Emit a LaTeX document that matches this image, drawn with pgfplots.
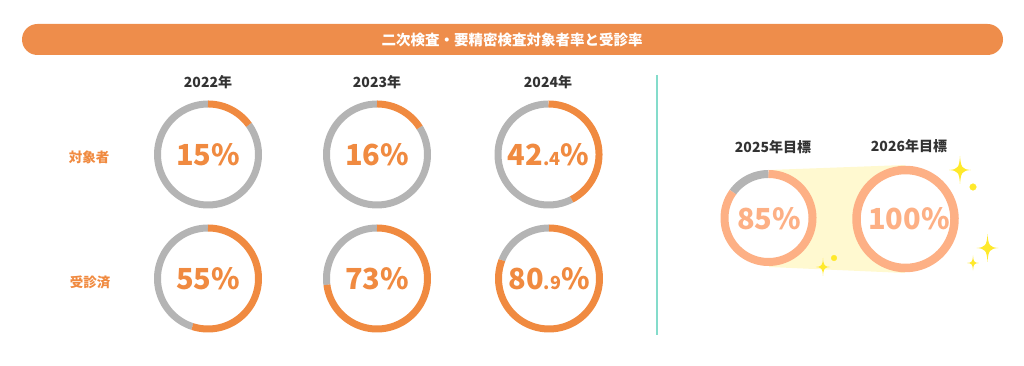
\documentclass[border=0pt]{standalone}
\usepackage{pgfplots}
\pgfplotsset{compat=1.18}
\usepackage{fontspec}
\setmainfont{Noto Sans CJK JP}
\definecolor{barorange}{HTML}{EE8D4B}
\definecolor{ringorange}{HTML}{F08A40}
\definecolor{ringgray}{HTML}{B4B4B4}
\definecolor{lightorange}{HTML}{FDB085}
\definecolor{teal}{HTML}{84DCCB}
\definecolor{staryellow}{HTML}{FFE92B}
\definecolor{paleyellow}{HTML}{FFF9D0}
\definecolor{darktext}{HTML}{333333}
\pgfdeclareplotmark{sparkle}{%
  \pgfpathmoveto{\pgfpoint{0pt}{\pgfplotmarksize}}%
  \pgfpathcurveto{\pgfpoint{0.06\pgfplotmarksize}{0.18\pgfplotmarksize}}{\pgfpoint{0.15\pgfplotmarksize}{0.05\pgfplotmarksize}}{\pgfpoint{0.78\pgfplotmarksize}{0pt}}%
  \pgfpathcurveto{\pgfpoint{0.15\pgfplotmarksize}{-0.05\pgfplotmarksize}}{\pgfpoint{0.06\pgfplotmarksize}{-0.18\pgfplotmarksize}}{\pgfpoint{0pt}{-\pgfplotmarksize}}%
  \pgfpathcurveto{\pgfpoint{-0.06\pgfplotmarksize}{-0.18\pgfplotmarksize}}{\pgfpoint{-0.15\pgfplotmarksize}{-0.05\pgfplotmarksize}}{\pgfpoint{-0.78\pgfplotmarksize}{0pt}}%
  \pgfpathcurveto{\pgfpoint{-0.15\pgfplotmarksize}{0.05\pgfplotmarksize}}{\pgfpoint{-0.06\pgfplotmarksize}{0.18\pgfplotmarksize}}{\pgfpoint{0pt}{\pgfplotmarksize}}%
  \pgfpathclose\pgfusepathqfill}
% \ring{cx}{cy}{radius}{line width}{percent}{colour}
\newcommand{\ring}[6]{%
  \addplot[draw=none, fill=white, domain=0:360, samples=90] ({#1+#3*sin(x)},{#2+#3*cos(x)});
  \ifdim #5pt<100pt
  \addplot[draw=ringgray, line width=#4, domain={3.6*#5}:360, samples=90] ({#1+#3*sin(x)},{#2+#3*cos(x)});
  \fi
  \addplot[draw=#6, line width=#4, domain=0:{3.6*#5}, samples=90] ({#1+#3*sin(x)},{#2+#3*cos(x)});
}
\newcommand{\bignum}[1]{{\fontsize{29}{30}\selectfont #1}}
\newcommand{\smlnum}[1]{{\fontsize{18}{20}\selectfont #1}}
\begin{document}
\begin{tikzpicture}
\begin{axis}[x=1pt, y=1pt, xmin=0, xmax=1024, ymin=0, ymax=366,
  hide axis, clip=false]
% title bar
\fill[barorange, rounded corners=15.5pt] (axis cs:22,311) rectangle (axis cs:1003,342);
\node[text=white, font=\bfseries\fontsize{14.5}{16}\selectfont] at (axis cs:512,326.5) {二次検査・要精密検査対象者率と受診率};
% divider
\draw[teal, line width=2pt] (axis cs:656.5,291) -- (axis cs:656.5,31);
% row labels
\node[text=ringorange, font=\bfseries\fontsize{13.5}{15}\selectfont] at (axis cs:89,209) {対象者};
\node[text=ringorange, font=\bfseries\fontsize{13.5}{15}\selectfont] at (axis cs:90,83.5) {受診済};
% year labels
\node[text=darktext, font=\bfseries\fontsize{14}{15}\selectfont] at (axis cs:208,283.5) {2022年};
\node[text=darktext, font=\bfseries\fontsize{14}{15}\selectfont] at (axis cs:377,283.5) {2023年};
\node[text=darktext, font=\bfseries\fontsize{14}{15}\selectfont] at (axis cs:548,283.5) {2024年};
\node[text=darktext, font=\bfseries\fontsize{14}{15}\selectfont] at (axis cs:773,218.5) {2025年目標};
\node[text=darktext, font=\bfseries\fontsize{14}{15}\selectfont] at (axis cs:909,219.5) {2026年目標};
% rings: actual
\ring{208}{211.5}{50.5}{7pt}{15}{ringorange}
\ring{377}{211.5}{50.5}{7pt}{16}{ringorange}
\ring{548.5}{211.5}{50.5}{7pt}{42.4}{ringorange}
\ring{208}{87.5}{50.5}{7pt}{55}{ringorange}
\ring{377}{87.5}{50.5}{7pt}{73}{ringorange}
\ring{549}{87.5}{50.5}{7pt}{80.9}{ringorange}
% target connector
\addplot[fill=paleyellow, draw=none] coordinates {(769,196) (905,201) (905,93) (769,99)} -- cycle;
\ring{768.5}{148}{44}{8pt}{85}{lightorange}
\ring{905.5}{147}{49}{8.5pt}{100}{lightorange}
% sparkles
\addplot[only marks, mark=sparkle, mark size=14pt, color=staryellow] coordinates {(960,196) (987.5,118)};
\addplot[only marks, mark=sparkle, mark size=9pt, color=staryellow] coordinates {(823,99)};
\addplot[only marks, mark=sparkle, mark size=7.5pt, color=staryellow] coordinates {(973,103)};
\addplot[only marks, mark=*, mark size=3.3pt, color=staryellow] coordinates {(973,179)};
\addplot[only marks, mark=*, mark size=2.8pt, color=staryellow] coordinates {(834,108)};
% numbers
\node[text=ringorange, font=\bfseries] at (axis cs:208,211) {\bignum{15\%}};
\node[text=ringorange, font=\bfseries] at (axis cs:377,211) {\bignum{16\%}};
\node[text=ringorange, font=\bfseries] at (axis cs:548.5,211) {\bignum{42}\smlnum{.4}\bignum{\%}};
\node[text=ringorange, font=\bfseries] at (axis cs:208,87) {\bignum{55\%}};
\node[text=ringorange, font=\bfseries] at (axis cs:377,87) {\bignum{73\%}};
\node[text=ringorange, font=\bfseries] at (axis cs:549,87) {\bignum{80}\smlnum{.9}\bignum{\%}};
\node[text=lightorange, font=\bfseries] at (axis cs:769,147) {\bignum{85\%}};
\node[text=lightorange, font=\bfseries] at (axis cs:909,147) {\bignum{100\%}};
\end{axis}
\pgfresetboundingbox
\path (0,0) rectangle (1024pt,366pt);
\end{tikzpicture}
\end{document}
